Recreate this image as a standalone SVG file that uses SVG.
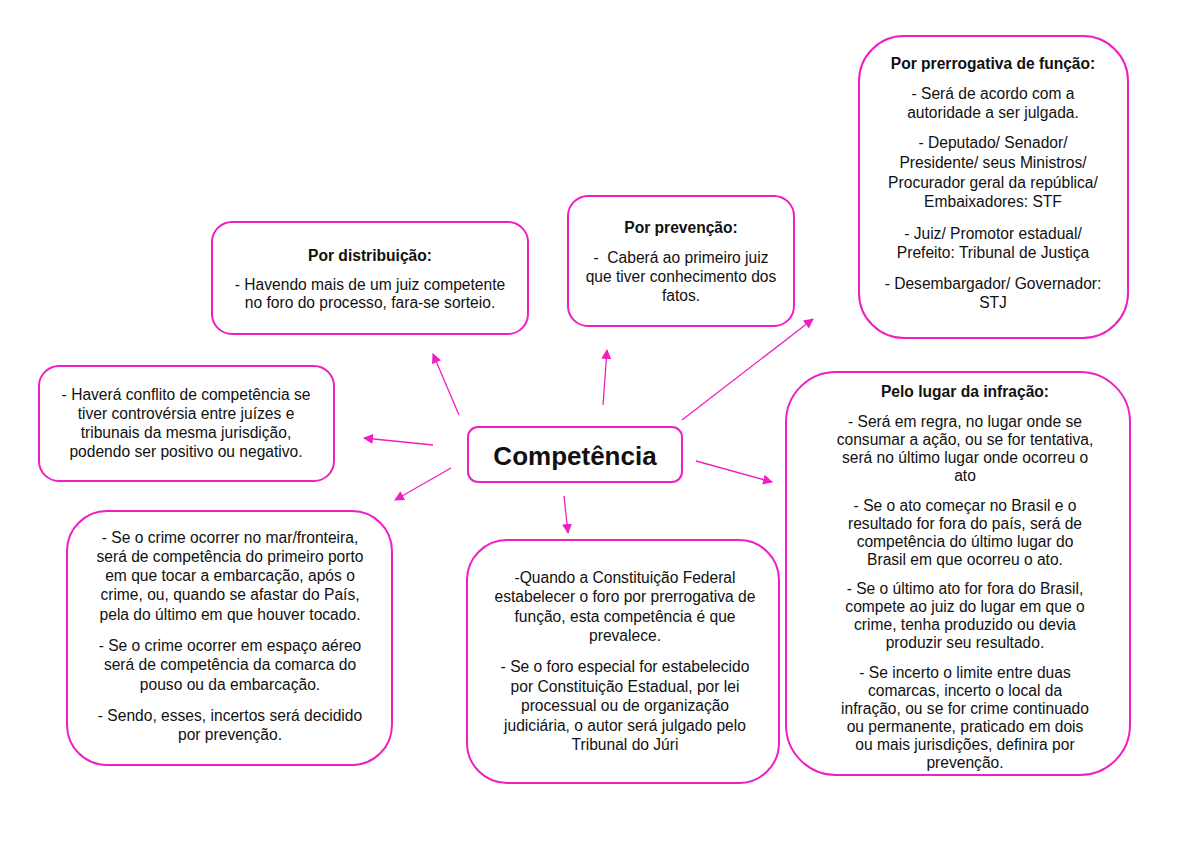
<svg xmlns="http://www.w3.org/2000/svg" width="1200" height="848" viewBox="0 0 1200 848">
<style>
.box{fill:#fff;stroke:#f01fc4;stroke-width:2}
.t{font-family:"Liberation Sans",Arial,sans-serif;font-size:15.6px;fill:#111;text-anchor:middle}
.b{font-weight:bold}
.c{stroke:#f01fc4;stroke-width:1.3;fill:none}
</style>
<defs>
<marker id="ah" viewBox="0 0 10 10" refX="9" refY="5" markerWidth="10" markerHeight="10" markerUnits="userSpaceOnUse" orient="auto">
<path d="M0,0 L10,5 L0,10 z" fill="#f01fc4"/>
</marker>
</defs>
<rect width="1200" height="848" fill="#fff"/>
<g id="connectors">
<line class="c" x1="459" y1="415" x2="433" y2="354" marker-end="url(#ah)"/>
<line class="c" x1="603" y1="405" x2="607" y2="350" marker-end="url(#ah)"/>
<line class="c" x1="682" y1="420" x2="813" y2="319" marker-end="url(#ah)"/>
<line class="c" x1="696" y1="461" x2="772" y2="482" marker-end="url(#ah)"/>
<line class="c" x1="564" y1="496" x2="568" y2="533" marker-end="url(#ah)"/>
<line class="c" x1="433" y1="445" x2="364" y2="438" marker-end="url(#ah)"/>
<line class="c" x1="451" y1="468" x2="395" y2="500" marker-end="url(#ah)"/>
</g>
<g id="competencia">
<rect class="box" x="468" y="427" width="214" height="55" rx="10"/>
<text class="t b" x="575" y="465" style="font-size:26px">Competência</text>
</g>
<g id="distribuicao">
<rect class="box" x="212" y="222" width="316" height="112" rx="20"/>
<text class="t b" x="370" y="261">Por distribuição:</text>
<text class="t" x="370" y="290">- Havendo mais de um juiz competente</text>
<text class="t" x="370" y="308">no foro do processo, fara-se sorteio.</text>
</g>
<g id="prevencao">
<rect class="box" x="568" y="196" width="226" height="130" rx="20"/>
<text class="t b" x="681" y="233">Por prevenção:</text>
<text class="t" x="681" y="263" style="white-space:pre">-  Caberá ao primeiro juiz</text>
<text class="t" x="681" y="282">que tiver conhecimento dos</text>
<text class="t" x="681" y="301">fatos.</text>
</g>
<g id="prerrogativa">
<rect class="box" x="859" y="36" width="269" height="302" rx="45"/>
<text class="t b" x="993" y="69">Por prerrogativa de função:</text>
<text class="t" x="993" y="99">- Será de acordo com a</text>
<text class="t" x="993" y="118">autoridade a ser julgada.</text>
<text class="t" x="993" y="148">- Deputado/ Senador/</text>
<text class="t" x="993" y="168">Presidente/ seus Ministros/</text>
<text class="t" x="993" y="188">Procurador geral da república/</text>
<text class="t" x="993" y="207">Embaixadores: STF</text>
<text class="t" x="993" y="239">- Juiz/ Promotor estadual/</text>
<text class="t" x="993" y="258">Prefeito: Tribunal de Justiça</text>
<text class="t" x="993" y="289">- Desembargador/ Governador:</text>
<text class="t" x="993" y="308">STJ</text>
</g>
<g id="conflito">
<rect class="box" x="39" y="366" width="295" height="115" rx="20"/>
<text class="t" x="186" y="400">- Haverá conflito de competência se</text>
<text class="t" x="186" y="419">tiver controvérsia entre juízes e</text>
<text class="t" x="186" y="438">tribunais da mesma jurisdição,</text>
<text class="t" x="186" y="457">podendo ser positivo ou negativo.</text>
</g>
<g id="mar">
<rect class="box" x="67" y="511" width="325" height="254" rx="40"/>
<text class="t" x="230" y="543">- Se o crime ocorrer no mar/fronteira,</text>
<text class="t" x="230" y="562">será de competência do primeiro porto</text>
<text class="t" x="230" y="581">em que tocar a embarcação, após o</text>
<text class="t" x="230" y="600">crime, ou, quando se afastar do País,</text>
<text class="t" x="230" y="620">pela do último em que houver tocado.</text>
<text class="t" x="230" y="651">- Se o crime ocorrer em espaço aéreo</text>
<text class="t" x="230" y="670">será de competência da comarca do</text>
<text class="t" x="230" y="690">pouso ou da embarcação.</text>
<text class="t" x="230" y="721">- Sendo, esses, incertos será decidido</text>
<text class="t" x="230" y="740">por prevenção.</text>
</g>
<g id="constituicao">
<rect class="box" x="467" y="540" width="312" height="243" rx="40"/>
<text class="t" x="625" y="583">-Quando a Constituição Federal</text>
<text class="t" x="625" y="602">estabelecer o foro por prerrogativa de</text>
<text class="t" x="625" y="622">função, esta competência é que</text>
<text class="t" x="625" y="641">prevalece.</text>
<text class="t" x="625" y="672">- Se o foro especial for estabelecido</text>
<text class="t" x="625" y="692">por Constituição Estadual, por lei</text>
<text class="t" x="625" y="711">processual ou de organização</text>
<text class="t" x="625" y="731">judiciária, o autor será julgado pelo</text>
<text class="t" x="625" y="750">Tribunal do Júri</text>
</g>
<g id="lugar">
<rect class="box" x="786" y="372" width="344" height="403" rx="50"/>
<text class="t b" x="965" y="397">Pelo lugar da infração:</text>
<text class="t" x="965" y="427">- Será em regra, no lugar onde se</text>
<text class="t" x="965" y="445">consumar a ação, ou se for tentativa,</text>
<text class="t" x="965" y="463">será no último lugar onde ocorreu o</text>
<text class="t" x="965" y="481">ato</text>
<text class="t" x="965" y="511">- Se o ato começar no Brasil e o</text>
<text class="t" x="965" y="529">resultado for fora do país, será de</text>
<text class="t" x="965" y="547">competência do último lugar do</text>
<text class="t" x="965" y="565">Brasil em que ocorreu o ato.</text>
<text class="t" x="965" y="594">- Se o último ato for fora do Brasil,</text>
<text class="t" x="965" y="612">compete ao juiz do lugar em que o</text>
<text class="t" x="965" y="630">crime, tenha produzido ou devia</text>
<text class="t" x="965" y="648">produzir seu resultado.</text>
<text class="t" x="965" y="678">- Se incerto o limite entre duas</text>
<text class="t" x="965" y="696">comarcas, incerto o local da</text>
<text class="t" x="965" y="714">infração, ou se for crime continuado</text>
<text class="t" x="965" y="732">ou permanente, praticado em dois</text>
<text class="t" x="965" y="750">ou mais jurisdições, definira por</text>
<text class="t" x="965" y="768">prevenção.</text>
</g>
</svg>
